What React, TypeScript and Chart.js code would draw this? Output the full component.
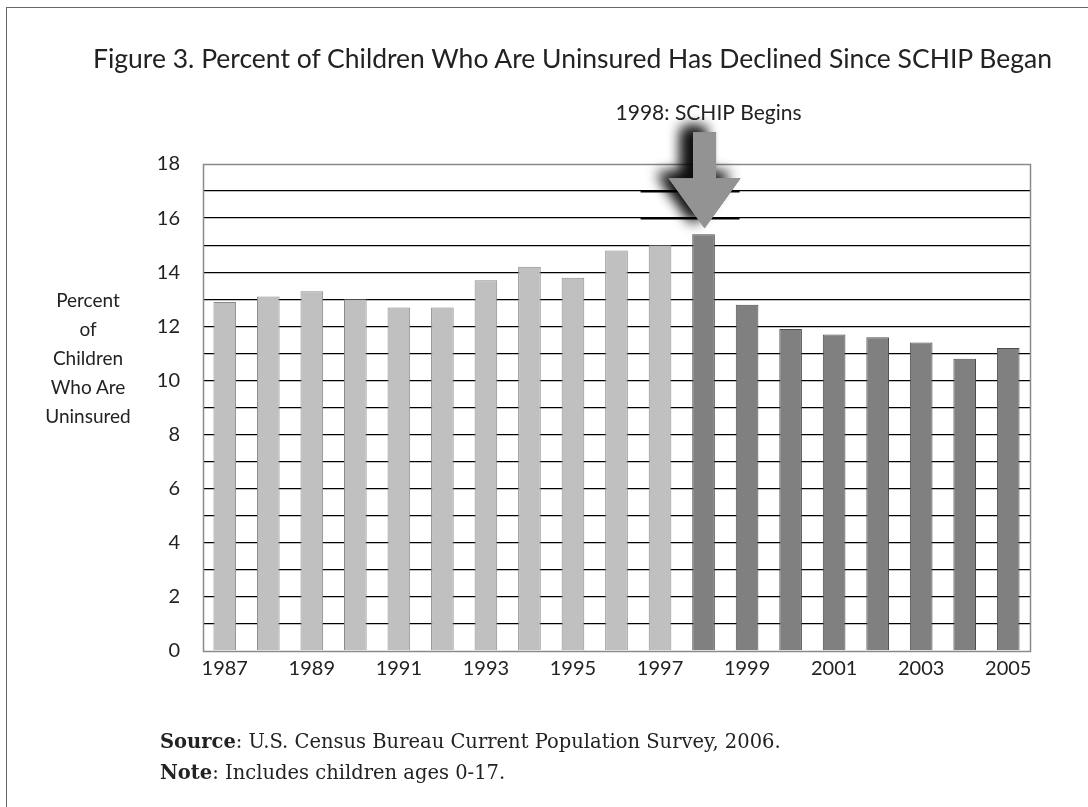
import React, { useEffect, useRef } from "react";
import { Chart, registerables } from "chart.js";

Chart.register(...registerables);

const years: string[] = [
  "1987", "1988", "1989", "1990", "1991", "1992", "1993", "1994", "1995", "1996",
  "1997", "1998", "1999", "2000", "2001", "2002", "2003", "2004", "2005",
];
const uninsuredPct: number[] = [
  12.9, 13.1, 13.3, 13.0, 12.7, 12.7, 13.7, 14.2, 13.8, 14.8,
  15.0, 15.4, 12.8, 11.9, 11.7, 11.6, 11.4, 10.8, 11.2,
];
const schipStartYear = "1998";
const annotationText = "1998: SCHIP Begins";
const yTickLabels: number[] = [0, 2, 4, 6, 8, 10, 12, 14, 16, 18];

const LABEL_FONT = "Lato, 'Open Sans', sans-serif";

const arrowPlugin = {
  id: "schipArrow",
  afterDatasetsDraw(chart: any) {
    const { ctx, scales } = chart;
    const idx = years.indexOf(schipStartYear);
    const x = scales.x.getPixelForValue(idx) + 1;
    const barTop = scales.y.getPixelForValue(uninsuredPct[idx]);
    const tipY = barTop - 6;
    const headH = 50;
    const headHalf = 36;
    const shaftHalf = 11.5;
    const shaftH = 46;
    ctx.save();
    // darker grid segments behind the arrow
    ctx.strokeStyle = "#000";
    ctx.lineWidth = 2;
    [17, 16].forEach((v) => {
      const y = Math.round(scales.y.getPixelForValue(v)) + 0.5;
      ctx.beginPath();
      ctx.moveTo(x - 64, y);
      ctx.lineTo(x + 35, y);
      ctx.stroke();
    });
    const arrowPath = () => {
      ctx.beginPath();
      ctx.moveTo(x - shaftHalf, tipY - headH - shaftH);
      ctx.lineTo(x + shaftHalf, tipY - headH - shaftH);
      ctx.lineTo(x + shaftHalf, tipY - headH);
      ctx.lineTo(x + headHalf, tipY - headH);
      ctx.lineTo(x, tipY);
      ctx.lineTo(x - headHalf, tipY - headH);
      ctx.lineTo(x - shaftHalf, tipY - headH);
      ctx.closePath();
    };
    arrowPath();
    ctx.shadowColor = "rgba(0,0,0,0.8)";
    ctx.shadowBlur = 14;
    ctx.shadowOffsetX = -11;
    ctx.shadowOffsetY = -5;
    ctx.fillStyle = "#939393";
    ctx.fill();
    ctx.fill();
    ctx.shadowColor = "transparent";
    ctx.fillStyle = "#939393";
    ctx.fill();
    // annotation text
    ctx.fillStyle = "#222";
    ctx.font = `21px ${LABEL_FONT}`;
    ctx.textAlign = "center";
    ctx.textBaseline = "middle";
    ctx.fillText(annotationText, x + 4, tipY - headH - shaftH - 19);
    ctx.restore();
  },
};

const framePlugin = {
  id: "plotFrame",
  afterDatasetsDraw(chart: any) {
    const { ctx, chartArea } = chart;
    ctx.save();
    ctx.strokeStyle = "#8a8a8a";
    ctx.lineWidth = 1.5;
    ctx.strokeRect(
      Math.round(chartArea.left) + 0.5,
      Math.round(chartArea.top) + 0.5,
      Math.round(chartArea.right - chartArea.left),
      Math.round(chartArea.bottom - chartArea.top)
    );
    ctx.restore();
  },
};

function UninsuredChart() {
  const ref = useRef<HTMLCanvasElement | null>(null);
  useEffect(() => {
    if (!ref.current) return;
    const schipIdx = years.indexOf(schipStartYear);
    const chart = new Chart(ref.current, {
      type: "bar",
      data: {
        labels: years,
        datasets: [
          {
            label: "Percent of Children Who Are Uninsured",
            data: uninsuredPct,
            backgroundColor: years.map((_, i) => (i < schipIdx ? "#c0c0c0" : "#808080")),
            borderColor: years.map((_, i) => (i < schipIdx ? "#8a8a8a" : "#4d4d4d")),
            borderWidth: 1,
            barPercentage: 0.52,
            categoryPercentage: 1.0,
          },
        ],
      },
      options: {
        animation: false,
        responsive: false,
        maintainAspectRatio: false,
        layout: { padding: { left: 0, top: 164, right: 58, bottom: 116 } },
        plugins: {
          legend: { display: false },
          tooltip: { enabled: false },
          title: { display: false },
        },
        scales: {
          x: {
            grid: { display: false, drawTicks: false },
            border: { display: false },
            ticks: {
              autoSkip: false,
              maxRotation: 0,
              padding: 6,
              color: "#222",
              font: { family: LABEL_FONT, size: 20 },
              callback: (_v: any, i: number) => (i % 2 === 0 ? years[i] : ""),
            },
            afterFit: (s: any) => {
              s.height = 40;
            },
          },
          y: {
            min: 0,
            max: 18,
            grid: {
              color: (c: any) => (c.tick && (c.tick.value === 18 || c.tick.value === 0) ? "rgba(0,0,0,0)" : "#000"),
              lineWidth: 1.3,
              drawTicks: false,
            },
            border: { display: false },
            ticks: {
              stepSize: 1,
              padding: 23,
              color: "#222",
              font: { family: LABEL_FONT, size: 20 },
              callback: (v: any) => (yTickLabels.includes(Number(v)) ? String(v) : ""),
            },
            afterFit: (s: any) => {
              s.width = 203;
            },
          },
        },
      },
      plugins: [framePlugin, arrowPlugin],
    });
    return () => chart.destroy();
  }, []);
  return (
    <canvas
      ref={ref}
      width={1088}
      height={807}
      style={{ position: "absolute", left: 0, top: 0, width: 1088, height: 807 }}
    />
  );
}

export default function App() {
  return (
    <div
      style={{
        position: "fixed",
        left: 0,
        top: 0,
        width: 1088,
        height: 807,
        background: "#fff",
        overflow: "hidden",
      }}
    >
      <div
        style={{
          position: "absolute",
          left: 6,
          top: 7,
          width: 1100,
          height: 820,
          borderLeft: "1.5px solid #666",
          borderTop: "1.5px solid #666",
        }}
      />
      <UninsuredChart />
      <div
        style={{
          position: "absolute",
          left: 93,
          top: 40,
          whiteSpace: "nowrap",
          fontFamily: LABEL_FONT,
          fontSize: 26.5,
          color: "#222",
          lineHeight: "36px",
        }}
      >
        Figure 3. Percent of Children Who Are Uninsured Has Declined Since SCHIP Began
      </div>
      <div
        style={{
          position: "absolute",
          left: 28,
          top: 285,
          width: 120,
          textAlign: "center",
          fontFamily: LABEL_FONT,
          fontSize: 19,
          color: "#222",
          lineHeight: "29px",
        }}
      >
        Percent
        <br />
        of
        <br />
        Children
        <br />
        Who Are
        <br />
        Uninsured
      </div>
      <div
        style={{
          position: "absolute",
          left: 160,
          top: 726,
          fontFamily: "'DejaVu Serif', serif",
          fontSize: 19.5,
          color: "#222",
          lineHeight: "31px",
          whiteSpace: "nowrap",
        }}
      >
        <div>
          <b>Source</b>: U.S. Census Bureau Current Population Survey, 2006.
        </div>
        <div>
          <b>Note</b>: Includes children ages 0-17.
        </div>
      </div>
    </div>
  );
}
